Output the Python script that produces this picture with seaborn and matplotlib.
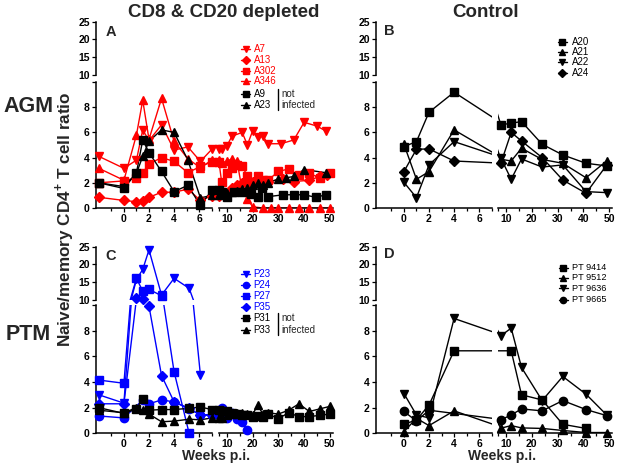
import numpy as np
import matplotlib
matplotlib.use("Agg")
import matplotlib.pyplot as plt
import seaborn as sns
from matplotlib.lines import Line2D

sns.set_theme(style="ticks")
plt.rcParams["font.family"] = ["Liberation Sans", "DejaVu Sans"]
plt.rcParams["font.weight"] = "bold"
plt.rcParams["mathtext.fontset"] = "custom"
plt.rcParams["mathtext.rm"] = "Liberation Sans:bold"
plt.rcParams["mathtext.bf"] = "Liberation Sans:bold"

RED, BLUE, BLK = "#ff0000", "#0000ff", "#000000"

# ---------------- data ----------------
# Panel A : AGM, CD8 & CD20 depleted
A7_wk = [-2, 0, 1, 1.5, 2, 3, 4, 5.1, 6.1, 7, 8, 10, 12, 16, 18, 20, 22, 24, 26, 31, 36, 40, 45, 48.5]
A7_val = [4.1, 3.15, 3.8, 6.2, 5.35, 6.6, 4.6, 4.85, 3.7, 4.65, 4.7, 4.9, 5.7, 6.0, 5.0, 6.1, 5.6, 5.7, 5.1, 5.1, 5.4, 6.8, 6.5, 6.1]
A13_wk = [-2, 0, 1, 1.5, 2, 3, 4, 5.1, 6.1, 7, 8, 10, 12, 14, 16, 18, 20, 22, 24, 26, 32, 36, 42, 46, 49]
A13_val = [0.85, 0.6, 0.5, 0.55, 0.85, 1.25, 1.25, 1.5, 0.6, 0.95, 1.15, 1.2, 1.6, 1.8, 1.95, 2.0, 2.1, 2.2, 2.1, 2.1, 2.3, 2.1, 2.2, 2.5, 2.6]
A302_wk = [-2, 0, 1, 1.5, 2, 3, 4, 5.1, 6.1, 7, 8, 10, 12, 14, 16, 18, 20, 22, 24, 26, 30, 34, 38, 42, 46, 50]
A302_val = [2.0, 2.15, 2.4, 2.8, 3.5, 4.0, 3.7, 2.8, 3.3, 3.65, 2.1, 2.75, 3.2, 3.4, 3.3, 2.55, 2.1, 2.55, 2.2, 2.2, 2.9, 3.1, 2.6, 2.75, 2.4, 2.75]
A346_wk = [-2, 0, 1, 1.5, 2, 3, 4, 5.1, 6.1, 7, 8, 10, 12, 14, 16, 18, 20, 24, 27, 30, 34, 38, 42, 46, 50]
A346_val = [3.15, 2.2, 5.8, 8.55, 5.45, 8.7, 5.3, 3.9, 3.2, 3.8, 3.6, 3.7, 3.9, 3.7, 1.4, 0.75, 0.1, 0, 0, 0, 0, 0, 0, 0, 0]
A9_wk = [-2, 0, 1, 1.5, 2, 3, 4, 5.1, 6.1, 7, 8, 10, 13, 16, 19.5, 22, 23.5, 26, 32, 36, 40, 44.5, 48.5]
A9_val = [2.0, 1.55, 2.8, 5.4, 4.4, 2.9, 1.3, 1.8, 0.2, 1.4, 1.3, 0.9, 1.3, 1.3, 1.15, 0.9, 1.55, 0.9, 1.05, 1.05, 1.05, 0.85, 1.05]
A23_wk = [-2, 0, 1, 1.5, 2, 3, 4, 5.1, 6.1, 7, 8, 10, 12, 14, 16, 18, 20, 22, 24, 26, 30, 33, 36, 40, 48.5]
A23_val = [2.0, 1.7, 2.75, 4.1, 5.3, 6.2, 6.0, 3.8, 0.8, 1.0, 1.1, 1.2, 1.3, 1.35, 1.5, 1.6, 1.8, 2.0, 1.8, 2.0, 2.3, 2.4, 2.5, 3.05, 2.8]

# Panel B : AGM, control
ctl_wk = [0, 1, 2, 4, 8, 12, 16, 24, 32, 41, 49]
A20_val = [4.87, 5.27, 7.6, 9.19, 6.6, 6.73, 6.86, 5.06, 4.21, 3.55, 3.34]
A21_val = [5.06, 2.28, 2.89, 6.2, 3.87, 3.73, 4.74, 3.85, 3.55, 2.4, 3.73]
A22_val = [2.04, 0.82, 3.42, 5.27, 3.95, 2.28, 3.89, 3.25, 3.42, 1.3, 1.22]
A24_val = [2.89, 4.66, 4.69, 3.73, 3.55, 6.0, 5.32, 4.0, 2.22, 1.17, 3.4]

# Panel C : PTM, CD8 & CD20 depleted
P23_wk = [-2, 0, 1, 1.5, 2, 3, 4, 5.2, 6.1]
P23_val = [3.0, 2.35, 15.8, 18.6, 24.1, 11.4, 16.1, 13.3, 4.55]
P24_wk = [-2, 0, 1.5, 2, 3, 4, 5.2, 6.1, 7, 8, 10, 12, 14, 16, 18]
P24_val = [1.35, 1.2, 2.6, 2.3, 2.6, 2.45, 1.9, 1.45, 1.45, 2.0, 1.2, 1.55, 1.15, 0.85, 0.25]
P27_wk = [-2, 0, 1, 1.5, 2, 3, 4, 5.2]
P27_val = [4.15, 3.9, 16.1, 12.5, 13.0, 11.2, 4.8, 0.0]
P35_wk = [-2, 0, 1, 1.5, 2, 3, 4, 5.2, 6.1, 7]
P35_val = [2.3, 2.3, 10.5, 10.2, 9.9, 4.5, 2.45, 1.95, 1.4, 1.4]
P3x_wk = [-2, 0, 1, 1.5, 2, 3, 4, 5.2, 6.1, 7, 8, 10, 12, 14, 16, 18, 20, 22, 24, 26, 30, 34, 38, 42, 46, 50]
P31_val = [2.0, 1.55, 1.9, 2.7, 1.8, 1.85, 1.85, 1.95, 2.05, 1.85, 1.7, 1.7, 1.6, 1.5, 1.45, 1.45, 1.3, 1.35, 1.3, 1.5, 1.15, 1.6, 1.3, 1.3, 1.4, 1.5]
P33_val = [1.8, 1.6, 2.0, 1.8, 1.5, 0.9, 0.95, 1.1, 1.05, 1.2, 1.2, 1.4, 1.5, 1.6, 1.55, 1.5, 1.45, 2.2, 1.5, 1.6, 1.5, 1.8, 2.3, 1.7, 1.9, 2.1]

# Panel D : PTM, control
PT9414_wk = [0, 1, 2, 4, 12, 16, 24, 32, 41]
PT9414_val = [0.7, 1.04, 2.2, 6.43, 6.43, 3.0, 2.6, 0.7, 0.38]
PT9512_val = [0.13, 1.17, 0.6, 1.75, 0.4, 0.6, 0.42, 0.38, 0.22, 0.06, 0.06]
PT9636_val = [3.1, 1.43, 1.2, 8.95, 7.6, 8.2, 5.13, 2.55, 4.43, 3.05, 1.43]
PT9665_wk = [0, 1, 2, 8, 12, 16, 24, 32, 41, 49]
PT9665_val = [1.7, 0.96, 1.8, 1.05, 1.43, 1.9, 1.75, 2.55, 1.85, 1.38]

panelA = [("A7", RED, "v", A7_wk, A7_val), ("A13", RED, "D", A13_wk, A13_val),
          ("A302", RED, "s", A302_wk, A302_val), ("A346", RED, "^", A346_wk, A346_val),
          ("A9", BLK, "s", A9_wk, A9_val), ("A23", BLK, "^", A23_wk, A23_val)]
panelB = [("A20", BLK, "s", ctl_wk, A20_val), ("A21", BLK, "^", ctl_wk, A21_val),
          ("A22", BLK, "v", ctl_wk, A22_val), ("A24", BLK, "D", ctl_wk, A24_val)]
panelC = [("P23", BLUE, "v", P23_wk, P23_val), ("P24", BLUE, "o", P24_wk, P24_val),
          ("P27", BLUE, "s", P27_wk, P27_val), ("P35", BLUE, "D", P35_wk, P35_val),
          ("P31", BLK, "s", P3x_wk, P31_val), ("P33", BLK, "^", P3x_wk, P33_val)]
panelD = [("PT 9414", BLK, "s", PT9414_wk, PT9414_val), ("PT 9512", BLK, "^", ctl_wk, PT9512_val),
          ("PT 9636", BLK, "v", ctl_wk, PT9636_val), ("PT 9665", BLK, "o", PT9665_wk, PT9665_val)]

# ---------------- layout ----------------
W, H = 620, 470
fig = plt.figure(figsize=(6.2, 4.7), dpi=100)


def box(x0, x1, y0, y1):
    return [x0 / W, 1 - y1 / H, (x1 - x0) / W, (y1 - y0) / H]


def fx(x):
    return x / W


def fy(y):
    return 1 - y / H


COLS = [((95.7, 211.7), (219.0, 332.5)), ((375.7, 491.7), (498.3, 611.8))]
ROWS = [((21.7, 75.0), (82.0, 208.0)), ((246.7, 300.0), (305.0, 433.3))]
LX, RX = (-2.25, 7.0), (7.0, 51.0)
MS = {"s": 5.8, "^": 6.4, "v": 6.4, "D": 5.0, "o": 6.0}


def style(ax, left, bottom):
    sns.despine(ax=ax, top=True, right=True, left=not left, bottom=not bottom)
    for s in ("left", "bottom"):
        ax.spines[s].set_linewidth(1.1)
        ax.spines[s].set_color("black")
    ax.tick_params(which="both", direction="out", width=0.9, colors="black",
                   labelsize=7.5, pad=1.2)
    ax.tick_params(which="major", length=3.0)
    ax.tick_params(which="minor", length=2.0)
    if not left:
        ax.tick_params(axis="y", which="both", left=False, labelleft=False)
    if not bottom:
        ax.tick_params(axis="x", which="both", bottom=False, labelbottom=False)
    ax.set_facecolor("none")
    ax.grid(False)
    ax.set_xlabel("")
    ax.set_ylabel("")


def make_panel(col, row, series):
    (lx0, lx1), (rx0, rx1) = COLS[col]
    (uy0, uy1), (ly0, ly1) = ROWS[row]
    ul = fig.add_axes(box(lx0, lx1, uy0, uy1))
    ll = fig.add_axes(box(lx0, lx1, ly0, ly1))
    lr = fig.add_axes(box(rx0, rx1, ly0, ly1))
    ul.set(xlim=LX, ylim=(10, 25))
    ll.set(xlim=LX, ylim=(0, 10))
    lr.set(xlim=RX, ylim=(0, 10))
    axes = [ul, ll, lr]
    for name, c, mk, wk, val in series:
        x = np.asarray(wk, float)
        y = np.asarray(val, float)
        for ax in axes:
            sns.lineplot(x=x, y=y, ax=ax, color=c, lw=1.0, estimator=None,
                         errorbar=None, legend=False)
            x0, x1 = ax.get_xlim()
            y0, y1 = ax.get_ylim()
            m = (x >= x0 - 0.01) & (x <= x1 + 0.01) & (y >= y0 - 0.01) & (y <= y1 + 0.01)
            ax.plot(x[m], y[m], ls="none", marker=mk, ms=MS[mk], color=c,
                    mec=c, clip_on=False, zorder=4)
    style(ul, True, False)
    style(ll, True, True)
    style(lr, False, True)
    ul.set_yticks([10, 15, 20, 25])
    ul.set_xticks([])
    ll.set_yticks([0, 2, 4, 6, 8, 10])
    ll.set_yticklabels(["0", "2", "4", "6", "8", ""])
    ll.set_xticks([0, 2, 4, 6])
    ll.set_xticks([-1, 1, 3, 5, 7], minor=True)
    lr.set_xticks([10, 20, 30, 40, 50])
    lr.set_xticks([7, 15, 25, 35, 45], minor=True)
    for ax in axes:
        ax.set_xlabel("")
        ax.set_ylabel("")
        for t in ax.get_xticklabels() + ax.get_yticklabels():
            t.set_fontweight("bold")
    return axes


make_panel(0, 0, panelA)
make_panel(1, 0, panelB)
make_panel(0, 1, panelC)
make_panel(1, 1, panelD)

# ---------------- texts ----------------
fig.text(fx(224), fy(16.7), "CD8 & CD20 depleted", ha="center", va="baseline",
         fontsize=13.5, weight="bold")
fig.text(fx(486), fy(16.7), "Control", ha="center", va="baseline",
         fontsize=13.5, weight="bold")
fig.text(fx(28.5), fy(111.7), "AGM", ha="center", va="baseline", fontsize=15.5, weight="bold")
fig.text(fx(28.5), fy(340), "PTM", ha="center", va="baseline", fontsize=15.5, weight="bold")
fig.text(fx(64.5), fy(219), r"Naive/memory CD4$^{\mathbf{+}}$ T cell ratio", rotation=90,
         ha="center", va="center", fontsize=12.3, weight="bold")
fig.text(fx(216), fy(460), "Weeks p.i.", ha="center", va="baseline", fontsize=10, weight="bold")
fig.text(fx(502.5), fy(460), "Weeks p.i.", ha="center", va="baseline", fontsize=10, weight="bold")
for let, x, y in [("A", 110.5, 35.5), ("B", 389.5, 35), ("C", 111, 259.5), ("D", 389.5, 258)]:
    fig.text(fx(x), fy(y), let, ha="center", va="baseline", fontsize=10.5, weight="bold")


def legend(entries, mx, tx, ys, fs=7):
    for (name, c, mk, _, _), y in zip(entries, ys):
        fig.add_artist(Line2D([fx(mx - 4.5), fx(mx + 4.5)], [fy(y), fy(y)],
                              transform=fig.transFigure, color=c, lw=1.0))
        fig.add_artist(Line2D([fx(mx)], [fy(y)], transform=fig.transFigure, ls="none",
                              marker=mk, ms=MS[mk] * 0.75, color=c))
        fig.text(fx(tx), fy(y), name, ha="left", va="center", fontsize=fs,
                 color=c, weight="normal")


legend(panelA, 245.5, 253.5, [49.3, 60.3, 70.5, 80.7, 94, 104.5])
legend(panelB, 562.3, 571.5, [41.7, 51.7, 62.3, 72.7])
legend(panelC, 245.5, 253.5, [274.3, 285, 296, 306.7, 318.3, 330])
legend(panelD, 563.3, 571.5, [267.7, 277.7, 288.3, 300], fs=6.6)

for y1, y2 in [(94, 104.5), (318.3, 330)]:
    fig.add_artist(Line2D([fx(277.5), fx(277.5)], [fy(y1 - 5), fy(y2 + 5)],
                          transform=fig.transFigure, color="black", lw=1.0))
    fig.text(fx(281), fy(y1), "not", ha="left", va="center", fontsize=7, weight="normal")
    fig.text(fx(281), fy(y2), "infected", ha="left", va="center", fontsize=7, weight="normal")

fig.savefig("out.png", dpi=100)
